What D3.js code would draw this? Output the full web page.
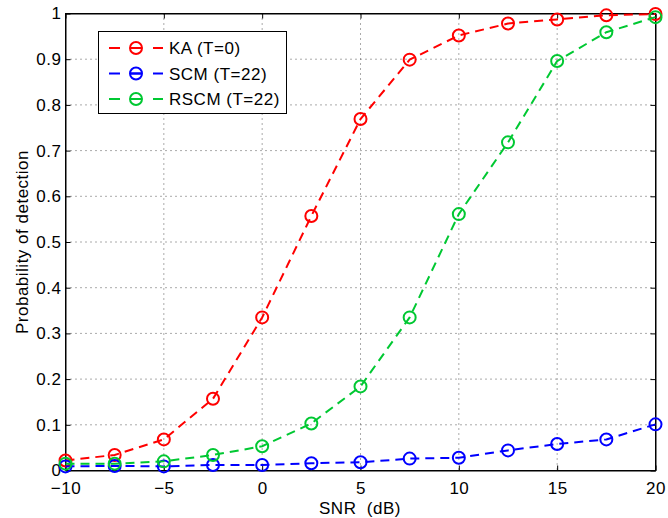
<!DOCTYPE html>
<html lang="en">
<head>
<meta charset="UTF-8">
<title>Probability of detection</title>
<style>
    body{ margin: 0; background: #fff; }
    svg{ display: block; }
    text{ font-family: "Liberation Sans", Arial, sans-serif; fill: #000; letter-spacing: 0.5px; }
    .grid line{ stroke: #555; stroke-width: 1; stroke-dasharray: 1,4; }
</style>
<script src="https://cdn.jsdelivr.net/npm/d3@7/dist/d3.min.js"></script>
</head>
<body>
<script>
    // data
    const snr = [-10, -7.5, -5, -2.5, 0, 2.5, 5, 7.5, 10, 12.5, 15, 17.5, 20]
    const ka = [0.022, 0.034, 0.068, 0.157, 0.335, 0.557, 0.769, 0.899, 0.952, 0.978, 0.987, 0.996, 0.999]
    const scm = [0.009, 0.010, 0.009, 0.012, 0.012, 0.016, 0.018, 0.026, 0.028, 0.044, 0.058, 0.068, 0.101]
    const rscm = [0.015, 0.015, 0.020, 0.034, 0.053, 0.103, 0.184, 0.335, 0.561, 0.718, 0.896, 0.959, 0.992]
    const seriesNames = ["KA (T=0)", "SCM (T=22)", "RSCM (T=22)"]
    const seriesColors = ["#ff0000", "#0000ff", "#00c832"]
    const xTicks = [-10, -5, 0, 5, 10, 15, 20]
    const yTicks = [0, 0.1, 0.2, 0.3, 0.4, 0.5, 0.6, 0.7, 0.8, 0.9, 1]

    const width = 668, height = 518
    const pLeft = 65.5, pRight = 655.5, pTop = 13.5, pBottom = 470.5
    const fs = 17

    let svg = d3.select("body").append("svg")
        .attr("width", width).attr("height", height)

    let x = d3.scaleLinear().domain([-10, 20]).range([pLeft, pRight])
    let y = d3.scaleLinear().domain([0, 1]).range([pBottom, pTop])

    // dotted grid
    let grid = svg.append("g").attr("class", "grid")
    grid.selectAll(".gx").data(xTicks.slice(1, -1)).enter().append("line")
        .attr("x1", d => x(d)).attr("x2", d => x(d))
        .attr("y1", pTop).attr("y2", pBottom)
    grid.selectAll(".gy").data(yTicks.slice(1, -1)).enter().append("line")
        .attr("x1", pLeft).attr("x2", pRight)
        .attr("y1", d => y(d)).attr("y2", d => y(d))

    // axes with inward ticks
    const tl = 5
    svg.append("g").attr("transform", `translate(0,${pBottom})`)
        .call(d3.axisBottom(x).tickValues(xTicks).tickSizeInner(-tl).tickSizeOuter(0).tickPadding(11)
            .tickFormat(d => d < 0 ? "\u2212" + Math.abs(d) : d))
    svg.append("g").attr("transform", `translate(0,${pTop})`)
        .call(d3.axisTop(x).tickValues(xTicks).tickSizeInner(-tl).tickSizeOuter(0).tickFormat(""))
    svg.append("g").attr("transform", `translate(${pLeft},0)`)
        .call(d3.axisLeft(y).tickValues(yTicks).tickSizeInner(-tl).tickSizeOuter(0).tickPadding(4)
            .tickFormat(d => String(+d.toFixed(1))))
    svg.append("g").attr("transform", `translate(${pRight},0)`)
        .call(d3.axisRight(y).tickValues(yTicks).tickSizeInner(-tl).tickSizeOuter(0).tickFormat(""))

    svg.selectAll(".domain").attr("stroke", "#000")
    svg.selectAll(".tick line").attr("stroke", "#000")
    svg.selectAll(".tick text").attr("font-size", fs)
        .attr("font-family", "'Liberation Sans', Arial, sans-serif")

    svg.append("rect")
        .attr("x", pLeft).attr("y", pTop)
        .attr("width", pRight - pLeft).attr("height", pBottom - pTop)
        .attr("fill", "none").attr("stroke", "#000")

    // curves
    const all = [ka, scm, rscm]
    let line = d3.line().x((d, i) => x(snr[i])).y(d => y(d))
    all.forEach((vals, k) => {
        let g = svg.append("g")
        g.append("path").datum(vals)
            .attr("d", line)
            .attr("fill", "none")
            .attr("stroke", seriesColors[k])
            .attr("stroke-width", 2)
            .attr("stroke-dasharray", "9,6")
        g.selectAll("circle").data(vals).enter().append("circle")
            .attr("cx", (d, i) => x(snr[i])).attr("cy", d => y(d))
            .attr("r", 6)
            .attr("fill", "none")
            .attr("stroke", seriesColors[k])
            .attr("stroke-width", 2)
    })

    // legend
    let lg = svg.append("g")
    lg.append("rect").attr("x", 98.5).attr("y", 31.5).attr("width", 188).attr("height", 82)
        .attr("fill", "#fff").attr("stroke", "#000")
    seriesNames.forEach((name, k) => {
        let ly = 48 + k * 25.5
        lg.append("line").attr("x1", 109).attr("x2", 163).attr("y1", ly).attr("y2", ly)
            .attr("stroke", seriesColors[k]).attr("stroke-width", 2)
            .attr("stroke-dasharray", "11,11,11")
        lg.append("line").attr("x1", 131).attr("x2", 141).attr("y1", ly).attr("y2", ly)
            .attr("stroke", seriesColors[k]).attr("stroke-width", 2)
        lg.append("circle").attr("cx", 136).attr("cy", ly).attr("r", 6)
            .attr("fill", "none").attr("stroke", seriesColors[k]).attr("stroke-width", 2)
        lg.append("text").attr("x", 169).attr("y", ly + 6).attr("font-size", fs).text(name)
    })

    // axis titles
    svg.append("text").attr("x", 360).attr("y", 514).attr("text-anchor", "middle")
        .attr("font-size", fs).style("white-space", "pre").text("SNR  (dB)")
    svg.append("text").attr("transform", `translate(28,${(pTop + pBottom) / 2}) rotate(-90)`)
        .attr("text-anchor", "middle").attr("font-size", fs).text("Probability of detection")
</script>
</body>
</html>
